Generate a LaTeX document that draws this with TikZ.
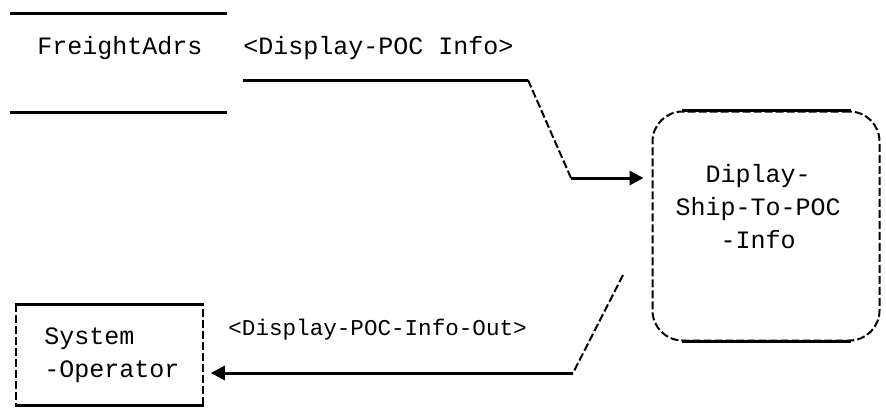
\documentclass[tikz,border=0pt]{standalone}
\usepackage{fontspec}
\setmonofont{Liberation Mono}
\usetikzlibrary{arrows.meta}

\begin{document}
\begin{tikzpicture}[x=0.5pt, y=-0.5pt,
  font=\ttfamily\fontsize{12.5}{16.5}\selectfont,
  txt/.style={inner sep=0pt},
  edge/.style={line width=1.5pt},
  slant/.style={line width=1pt, dashed, dash pattern=on 4pt off 1.5pt},
  tip/.style={-{Triangle[length=7pt, width=7pt]}},
  storebox/.style={minimum width=108.5pt, minimum height=49pt, inner sep=0pt},
  procbox/.style={draw, slant, rounded corners=15pt, minimum width=113.5pt, minimum height=114.5pt, inner sep=0pt},
  extbox/.style={draw, slant, line width=0.8pt, minimum width=93.5pt, minimum height=50pt, inner sep=0pt}]
\useasboundingbox (0,0) rectangle (886,413);

\node[storebox] (fa) at (118.5,63) {};
\node[txt] (faname) at (120,48) {FreightAdrs};
\draw[edge] (fa.north west) -- (fa.north east) (fa.south west) -- (fa.south east);

\node[procbox] (disp) at (766,226) {};
\node[txt, align=center] (dispname) at (758,207) {Diplay-\\Ship-To-POC\\-Info};
\draw[edge] ([xshift=15pt]disp.north west) -- ([xshift=-15pt]disp.north east)
            ([xshift=15pt]disp.south west) -- ([xshift=-15pt]disp.south east);

\node[extbox] (op) at (109.5,355) {};
\node[txt, align=left, anchor=west] (opname) at (44,355) {System\\-Operator};
\draw[edge] (op.north west) -- (op.north east) (op.south west) -- (op.south east);

\coordinate (in1) at (243,80);
\coordinate (in2) at (528,80);
\coordinate (in3) at (571,178);
\draw[edge] (in1) -- (in2);
\draw[slant] (in2) -- (in3);
\draw[edge, tip, shorten >=4pt] (in3) -- (disp.west |- in3);
\node[txt, anchor=west] (inlbl) at (243,48) {<Display-POC Info>};

\coordinate (out1) at (623,275);
\coordinate (out2) at (573,373);
\draw[slant] (out1) -- (out2);
\draw[edge, tip, shorten >=3.5pt] (out2) -- (op.east |- out2);
\node[txt, anchor=west, font=\ttfamily\fontsize{11.3}{14}\selectfont] (outlbl) at (228,330) {<Display-POC-Info-Out>};
\end{tikzpicture}
\end{document}
